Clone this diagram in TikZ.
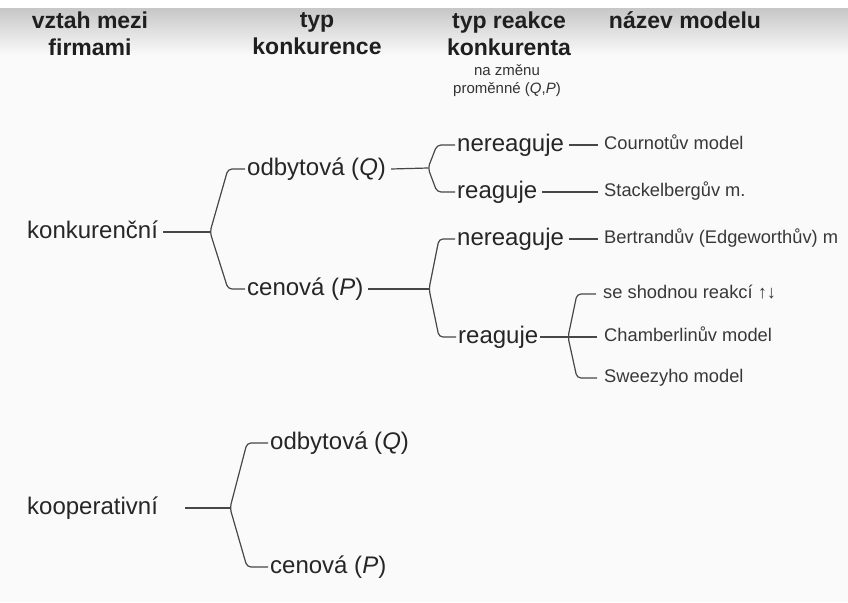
\documentclass[tikz,border=0pt]{standalone}
\usepackage{fontspec}
\setmainfont{Liberation Sans}
\begin{document}
\begin{tikzpicture}[x=1pt,y=-1pt,
  hdr/.style={align=center, font=\bfseries\fontsize{23}{27}\selectfont, text=black!88, inner sep=0pt},
  sub/.style={align=center, font=\fontsize{15}{18}\selectfont, text=black!80, inner sep=0pt},
  lbl/.style={anchor=west, font=\fontsize{24}{28}\selectfont, text=black!85, inner xsep=5pt, inner ysep=0pt, text height=17pt, text depth=5pt},
  mdl/.style={anchor=west, font=\fontsize{18.3}{22}\selectfont, text=black!78, inner xsep=6pt, inner ysep=0pt, text height=13pt, text depth=4pt},
  conn/.style={draw=black!72, line width=1.2pt},
  brk/.style={draw=black!72, line width=1.2pt, rounded corners=4pt}]
\useasboundingbox (0,0) rectangle (848,602);
\fill[black!2] (0,0) rectangle (848,602);
\shade[top color=black!22, bottom color=black!2] (0,8) rectangle (848,55);
\fill[white] (0,0) rectangle (848,8);

% headers
\node[hdr] (h1) at (90,33.5) {vztah mezi\\firmami};
\node[hdr] (h2) at (317,33.5) {typ\\konkurence};
\node[hdr] (h3) at (509,33.5) {typ reakce\\konkurenta};
\node[hdr] (h4) at (685,20) {název modelu};
\node[sub] (h5) at (507,81) {na změnu\\proměnné (\textit{Q},\textit{P})};

% level 1
\node[lbl] (konk) at (22,232) {konkurenční};
\node[lbl] (koop) at (22,508) {kooperativní};

% level 2
\node[lbl] (odb1) at (242,169) {odbytová (\textit{Q})};
\node[lbl] (cen1) at (242,289) {cenová (\textit{P})};
\node[lbl] (odb2) at (265,443) {odbytová (\textit{Q})};
\node[lbl] (cen2) at (265,567) {cenová (\textit{P})};

% level 3
\node[lbl] (nq) at (452,145) {nereaguje};
\node[lbl] (rq) at (452,192) {reaguje};
\node[lbl] (np) at (452,239) {nereaguje};
\node[lbl] (rp) at (453,337) {reaguje};

% models
\node[mdl] (cour) at (598,145) {Cournotův model};
\node[mdl] (stack) at (598,192) {Stackelbergův m.};
\node[mdl] (bert) at (598,239) {Bertrandův (Edgeworthův) m};
\node[mdl] (shod) at (597,294) {se shodnou reakcí ↑↓};
\node[mdl] (cham) at (598,337) {Chamberlinův model};
\node[mdl] (swee) at (598,378) {Sweezyho model};

% bracket points
\coordinate (b1) at (210,232);
\coordinate (b2) at (428,168);
\coordinate (b3) at (429,289);
\coordinate (b4) at (230,508);
\coordinate (b5) at (568,337);
\coordinate (k0) at (185,508);

% connectors
\draw[conn] (konk.east) -- (b1);
\draw[brk] ([xshift=3pt]odb1.west) -- (228,169) -- (b1) -- (228,289) -- ([xshift=3pt]cen1.west);
\draw[conn] (odb1.east) -- (b2);
\draw[brk] ([xshift=3pt]nq.west) -- (437,145) -- (b2) -- (437,192) -- ([xshift=3pt]rq.west);
\draw[conn] (cen1.east) -- (b3);
\draw[brk] ([xshift=3pt]np.west) -- (439,239) -- (b3) -- (439,337) -- ([xshift=3pt]rp.west);
\draw[conn] (nq.east) -- (cour.west);
\draw[conn] (rq.east) -- (stack.west);
\draw[conn] (np.east) -- (bert.west);
\draw[conn] ([xshift=-3pt]rp.east) -- (b5) -- ([xshift=-1pt]cham.west);
\draw[brk] ([xshift=-1pt]shod.west) -- (577,294) -- (b5) -- (577,378) -- ([xshift=-1pt]swee.west);
\draw[conn] (k0) -- (b4);
\draw[brk] ([xshift=3pt]odb2.west) -- (247,443) -- (b4) -- (247,567) -- ([xshift=3pt]cen2.west);
\end{tikzpicture}
\end{document}
